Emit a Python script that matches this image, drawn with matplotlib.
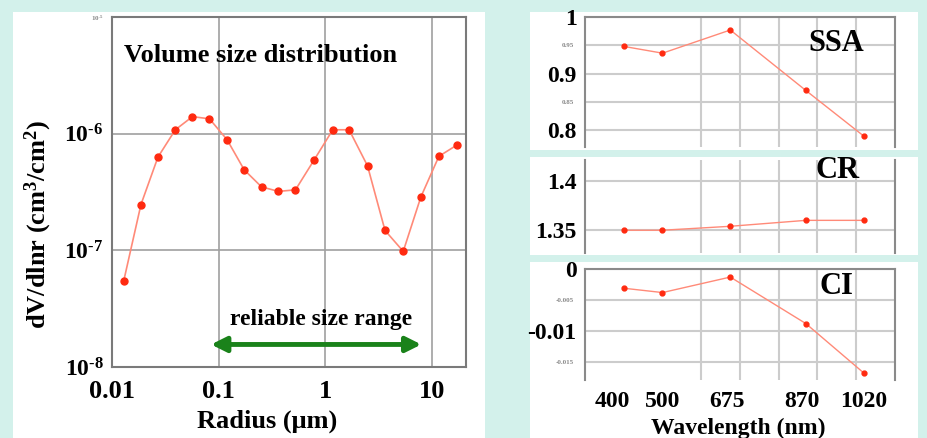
import numpy as np
import matplotlib.pyplot as plt
from matplotlib.patches import Rectangle
from matplotlib.transforms import ScaledTranslation

plt.rcParams.update({
    "font.family": "Liberation Serif",
    "font.weight": "bold",
    "axes.labelweight": "bold",
    "mathtext.fontset": "custom",
    "mathtext.rm": "Liberation Serif:bold",
    "mathtext.bf": "Liberation Serif:bold",
    "mathtext.default": "bf",
})

# volume size distribution
radius = [0.0129, 0.0187, 0.027, 0.0393, 0.0569, 0.0822, 0.120, 0.174, 0.253, 0.365,
          0.527, 0.793, 1.18, 1.68, 2.50, 3.65, 5.41, 7.91, 11.7, 17.3]
dvdlnr = [5.5e-8, 2.47e-7, 6.3e-7, 1.08e-6, 1.40e-6, 1.34e-6, 8.9e-7, 4.9e-7, 3.5e-7, 3.2e-7,
          3.3e-7, 6.0e-7, 1.08e-6, 1.08e-6, 5.3e-7, 1.48e-7, 9.8e-8, 2.86e-7, 6.4e-7, 8.0e-7]

# optical properties vs wavelength
wavelength = [400, 500, 675, 870, 1020]
ssa = [0.948, 0.936, 0.977, 0.870, 0.789]
cr = [1.350, 1.350, 1.354, 1.360, 1.360]
ci = [-0.0031, -0.0038, -0.0013, -0.0088, -0.0168]

W, H = 928, 438
line_c = "#ff8a78"
dot_c = "#ff2a10"


def fr(x0, y0, x1, y1):
    # pixel box (top-left origin) -> figure fraction rect
    return [x0 / W, 1 - y1 / H, (x1 - x0) / W, (y1 - y0) / H]


fig = plt.figure(figsize=(W / 100, H / 100), dpi=100, facecolor="#d3f1eb")
for box in [(13, 12, 485, 438), (530, 12, 918, 150), (530, 157, 918, 255), (530, 262, 918, 438)]:
    r = fr(*box)
    fig.add_artist(Rectangle(r[:2], r[2], r[3], transform=fig.transFigure,
                             fc="white", ec="none", zorder=-5))

# ---- left panel
ax = fig.add_axes(fr(112, 17, 466, 367))
ax.set_xscale("log")
ax.set_yscale("log")
ax.plot(radius, dvdlnr, "-", color=line_c, lw=1.2, marker="o", ms=5, mfc=dot_c, mec=dot_c)
ax.set_xlim(0.01, 21)
ax.set_ylim(1e-8, 1e-5)
ax.set_xticks([0.01, 0.1, 1, 10], ["0.01", "0.1", "1", "10"])
ax.set_yticks([1e-8, 1e-7, 1e-6, 1e-5],
              [r"$10^{\text{-}8}$", r"$10^{\text{-}7}$", r"$10^{\text{-}6}$", r"$10^{\text{-}5}$"])
ax.minorticks_off()
ax.tick_params(axis="x", length=0, pad=9, labelsize=19)
ax.tick_params(axis="y", length=0, pad=6, labelsize=17)
top = ax.get_yticklabels()[-1]
top.set_fontsize(5)
top.set_color("#888888")
ax.grid(True, color="#a0a0a0", lw=1.2)
for s in ax.spines.values():
    s.set_color("#7a7a7a")
    s.set_linewidth(1.5)
ax.set_xlabel("Radius (μm)", fontsize=19)
ax.xaxis.label.set_va("center")
ax.xaxis.set_label_coords(0.437, -0.156)
ax.set_ylabel(r"dV/dlnr (cm$^{3}$/cm$^{2}$)", fontsize=19)
ax.yaxis.label.set_va("center")
ax.yaxis.set_label_coords(-0.209, 0.406)
ax.text(0.034, 0.891, "Volume size distribution", transform=ax.transAxes, fontsize=19,
        ha="left", va="center")
ax.annotate("", xy=(0.085, 1.56e-8), xytext=(8.0, 1.56e-8),
            arrowprops=dict(arrowstyle="<|-|>,head_length=0.9,head_width=0.45",
                            color="#1a821a", lw=3.5, shrinkA=0, shrinkB=0))
ax.text(0.59, 0.137, "reliable size range", transform=ax.transAxes, fontsize=17,
        ha="center", va="center")

# ---- right panels
panels = [
    (fr(585, 17, 895, 147), ssa, (0.77, 1.0), [0.8, 0.9, 1.0], ["0.8", "0.9", "1"],
     [0.85, 0.95], ["0.85", "0.95"], "SSA", (0.812, 0.798)),
    (fr(585, 160, 895, 253), cr, (1.327, 1.421), [1.35, 1.4], ["1.35", "1.4"],
     [], [], "CR", (0.814, 0.885)),
    (fr(585, 269, 895, 380), ci, (-0.0179, 0.0), [-0.01, 0.0], ["-0.01", "0"],
     [-0.015, -0.005], ["-0.015", "-0.005"], "CI", (0.812, 0.84)),
]
for i, (rect, vals, ylim, yt, ytl, ym, yml, name, pos) in enumerate(panels):
    a = fig.add_axes(rect)
    a.set_facecolor("none")
    a.plot(wavelength, vals, "-", color=line_c, lw=1.0, marker="o", ms=3.5, mfc=dot_c, mec=dot_c)
    a.set_xlim(300, 1100)
    a.set_ylim(*ylim)
    a.set_xticks(wavelength, [str(w) for w in wavelength] if i == 2 else [""] * 5)
    a.set_xticks(range(400, 1001, 100), minor=True)
    a.set_yticks(yt, ytl)
    a.set_yticks(ym, yml, minor=True)
    a.tick_params(which="both", length=0)
    a.tick_params(axis="y", which="major", pad=6, labelsize=17)
    a.tick_params(axis="y", which="minor", pad=8, labelsize=5, labelcolor="#888888")
    a.tick_params(axis="x", which="major", pad=8, labelsize=17)
    a.tick_params(axis="x", which="minor", labelbottom=False)
    a.grid(True, axis="x", which="minor", color="#cccccc", lw=1.5)
    a.grid(True, axis="y", which="both", color="#cccccc", lw=1.5)
    for k, s in a.spines.items():
        s.set_color("#8a8a8a")
        s.set_linewidth(1.5)
    a.spines["bottom"].set_visible(False)
    if i == 1:
        a.spines["top"].set_visible(False)
    a.text(pos[0], pos[1], name, transform=a.transAxes, fontsize=22, ha="center", va="center")
    if i == 2:
        # nudge the crowded wavelength labels apart, as on the slide
        for lab, dx in zip(a.get_xticklabels(), [-11, 0, -3, -4, 0]):
            lab.set_transform(lab.get_transform() + ScaledTranslation(dx / 100, 0, fig.dpi_scale_trans))
        a.set_xlabel("Wavelength (nm)", fontsize=17)
        a.xaxis.label.set_va("center")
        a.xaxis.set_label_coords(0.4935, -0.432)

fig.savefig("out.png", dpi=100, facecolor=fig.get_facecolor())
